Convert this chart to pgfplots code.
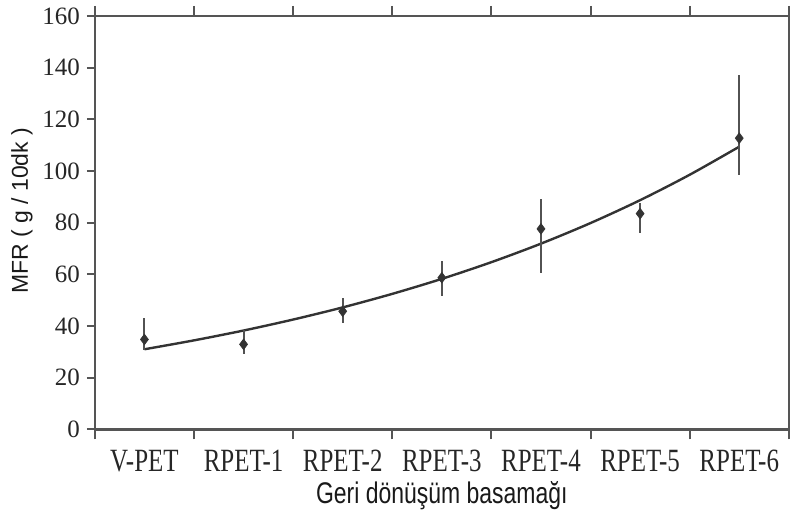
\documentclass[border=0pt]{standalone}
\usepackage{pgfplots}
\pgfplotsset{compat=1.18}
\usepackage{graphicx}
\usepackage{fontspec}
\setmainfont{Liberation Serif}
\newfontfamily\labelfont{Liberation Sans}
\definecolor{axisgray}{HTML}{555555}
\definecolor{linegray}{HTML}{333333}
\newcommand\xs[1]{\scalebox{1}[1.3]{#1}}
\begin{document}
\begin{tikzpicture}
 \begin{axis}[
   scale only axis, width=347.5pt, height=207pt,
   xmin=-0.5, xmax=6.5, ymin=0, ymax=160,
   xtick={0,...,6},
   xticklabels={\xs{V-PET},\xs{RPET-1},\xs{RPET-2},\xs{RPET-3},\xs{RPET-4},\xs{RPET-5},\xs{RPET-6}},
   major x tick style={draw=none},
   minor xtick={-0.5,0.5,1.5,2.5,3.5,4.5,5.5,6.5},
   minor x tick style={axisgray, line width=1pt},
   minor tick length=5pt,
   ytick={0,20,...,160},
   ytick pos=left, xtick pos=both,
   tick align=outside,
   major tick length=4pt,
   y tick style={axisgray, line width=1pt},
   axis line style={axisgray, line width=1.2pt},
   tick label style={font=\fontsize{12.5}{14}\selectfont, text=black!85},
   /pgf/number format/assume math mode=true,
   xticklabel style={yshift=-3pt},
   xlabel={\labelfont\xs{Geri dönüşüm basamağı}},
   ylabel={\labelfont MFR ( g / 10dk )},
   label style={font=\fontsize{11.5}{13}\selectfont, text=black!90},
   xlabel style={yshift=2pt},
   ylabel style={yshift=-2pt, xshift=6pt},
   clip=false,
 ]
  % fitted trend curve
  \addplot[linegray, line width=1.2pt, smooth] coordinates {
   (0,31) (0.5,34.44) (1,38.25) (1.5,42.50) (2,47.20) (2.5,52.44) (3,58.25)
   (3.5,64.71) (4,71.88) (4.5,79.85) (5,88.70) (5.5,98.54) (6,109.4)
  };
  % measured MFR with error bars
  \addplot[only marks, mark=diamond*, mark size=2.6pt, color=linegray,
    error bars/.cd, y dir=both, y explicit, error mark=none,
    error bar style={line width=1pt, linegray!85}]
   table[x=x, y=y, y error plus=ep, y error minus=em] {
x  y     ep    em
0  34.8  8.4   3.9
1  32.9  5.7   3.9
2  45.7  5.3   4.4
3  58.7  6.3   6.9
4  77.6  11.7  16.9
5  83.5  4.2   7.4
6  112.7 24.5  14.1
  };
  \path (rel axis cs:0,0) ++(-47.5pt,-38pt) coordinate (bbl);
  \path (rel axis cs:1,1) ++(0.5pt,8pt) coordinate (bbr);
  \path[use as bounding box] (bbl) rectangle (bbr);
 \end{axis}
\end{tikzpicture}
\end{document}
